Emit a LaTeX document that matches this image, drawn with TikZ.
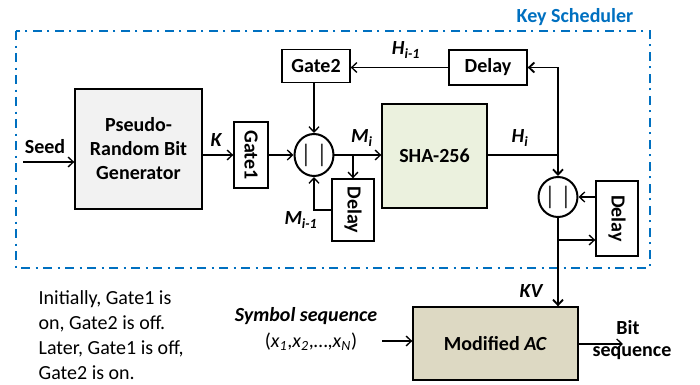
\documentclass[tikz,border=0pt]{standalone}
\usepackage{fontspec}
\setmainfont{Carlito}
\usepackage{graphicx}
\usetikzlibrary{shapes.geometric,arrows.meta}
\definecolor{ksblue}{RGB}{0,112,192}
\definecolor{prbgfill}{RGB}{242,242,242}
\definecolor{shafill}{RGB}{235,241,222}
\definecolor{macfill}{RGB}{221,217,195}
\begin{document}
\begin{tikzpicture}[x=0.75pt,y=-0.75pt,line width=1pt,>={Straight Barb[length=4pt,width=7.5pt]},
    every node/.style={font=\fontsize{15}{18}\selectfont},
    box/.style={draw,line width=1pt,inner sep=0pt,align=center,font=\fontsize{15}{18}\selectfont\bfseries},
    ring/.style={draw,ellipse,line width=1.5pt,inner sep=0pt,minimum width=25.5pt,minimum height=31.5pt,
        font=\fontsize{19}{19}\selectfont,text=black!80},
    lbl/.style={inner sep=0pt,font=\fontsize{15}{18}\selectfont\bfseries\itshape}]
    \useasboundingbox (0,0) rectangle (700,385);
    \draw[ksblue,line width=1.6pt,dash pattern=on 7pt off 4pt on 1.5pt off 4pt] (16,31) rectangle (650,268);
    \node[inner sep=0pt,text=ksblue,font=\fontsize{15}{18}\selectfont\bfseries] (ks) at (575,17) {Key Scheduler};

    \node[box,fill=prbgfill,minimum width=95.25pt,minimum height=90pt] (prbg) at (138.5,149) {Pseudo-\\Random Bit\\Generator};
    \node[box,minimum width=25.5pt,minimum height=49.5pt] (gate1) at (251,155) {\rotatebox{-90}{Gate1}};
    \node[box,minimum width=51pt,minimum height=24.75pt] (gate2) at (316,66) {Gate2};
    \node[ring] (cat1) at (314,155) {|\,|};
    \node[box,minimum width=31.5pt,minimum height=46.5pt] (delay1) at (353,210) {\rotatebox{-90}{Delay}};
    \node[box,fill=shafill,minimum width=78.75pt,minimum height=78pt] (sha) at (434.5,156) {SHA-256};
    \node[box,minimum width=58.5pt,minimum height=26.25pt] (delay2) at (488,67.5) {Delay};
    \node[ring,minimum width=27pt,minimum height=30pt] (cat2) at (558,197) {|\,|};
    \node[box,minimum width=31.5pt,minimum height=56.25pt] (delay3) at (617,218.5) {\rotatebox{-90}{Delay}};
    \node[box,fill=macfill,minimum width=123.75pt,minimum height=54.75pt] (mac) at (495.5,343.5) {Modified \textit{AC}};

    \node[inner sep=0pt,font=\fontsize{15}{18}\selectfont\bfseries] (seed) at (45,147) {Seed};
    \node[lbl] (k) at (216,140) {K};
    \node[lbl] (mi) at (362,138) {M\textsubscript{i}};
    \node[lbl] (mprev) at (301,220) {M\textsubscript{i-1}};
    \node[lbl] (hi) at (520,138) {H\textsubscript{i}};
    \node[lbl] (hprev) at (406,50) {H\textsubscript{i-1}};
    \node[lbl] (kv) at (531,291) {KV};
    \node[lbl] (symlbl) at (306,316) {Symbol sequence};
    \node[inner sep=0pt] (xseq) at (311,342) {(\textit{x}\textsubscript{\textit{1}},\textit{x}\textsubscript{\textit{2}},…,\textit{x}\textsubscript{\textit{N}})};
    \node[inner sep=0pt,font=\fontsize{15}{18}\selectfont\bfseries] (bit) at (628,328) {Bit};
    \node[inner sep=0pt,font=\fontsize{15}{18}\selectfont\bfseries] (bitseq) at (632,353) {sequence};
    \node[inner sep=0pt,anchor=north west,align=left,font=\fontsize{15}{18.75}\selectfont] (note) at (38,290)
        {Initially, Gate1 is\\on, Gate2 is off.\\Later, Gate1 is off,\\Gate2 is on.};

    \coordinate (seedin) at (23,162);
    \coordinate (symin) at (382,341);
    \coordinate (bitout) at (623,344);
    \coordinate (kvtap) at (558,240);

    \draw[->] (seedin) -- (prbg.west |- seedin);
    \draw[->] (prbg.east |- gate1) -- (gate1.west);
    \draw[->] (gate1.east) -- (cat1.west);
    \draw[->] (cat1.north |- gate2.south) -- (cat1.north);
    \draw[->] (cat1.east) -- (sha.west |- cat1);
    \draw[->] (delay1.north |- cat1) -- (delay1.north);
    \draw[->] (delay1.west) -| (cat1.south);
    \draw[->] (delay2.west) -- (gate2.east |- delay2.west);
    \draw (sha.east |- cat1) -- (cat2.north |- cat1);
    \draw[<->,line width=1.4pt] (delay2.east) -| (cat2.north);
    \draw[->] (delay3.west |- cat2) -- (cat2.east);
    \draw[->,line width=1.4pt] (cat2.south) -- (cat2 |- mac.north);
    \draw[->] (kvtap) -- (delay3.west |- kvtap);
    \draw[->] (symin) -- (mac.west |- symin);
    \draw[->] (mac.east |- bitout) -- (bitout);
\end{tikzpicture}
\end{document}
